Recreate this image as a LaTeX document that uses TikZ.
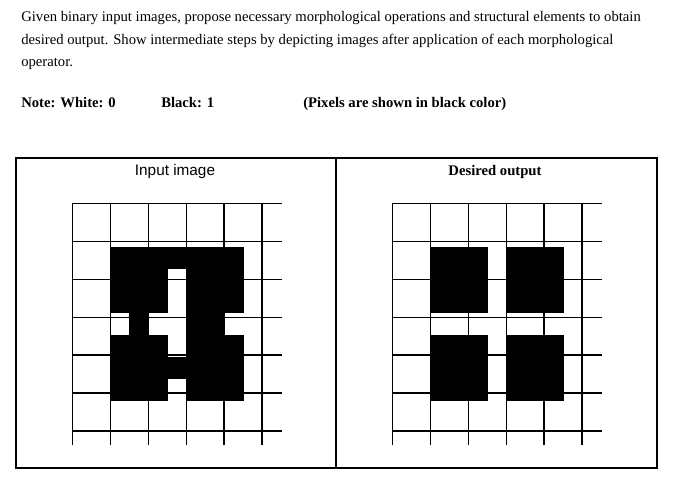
\documentclass[tikz,border=0pt]{standalone}
\usepackage{fontspec}
\setmainfont{Liberation Serif}
\newfontfamily\arialf{Liberation Sans}
\begin{document}
\begin{tikzpicture}[x=0.75pt,y=-0.75pt,
  txt/.style={anchor=base west,inner sep=0pt,font=\fontsize{11}{13}\selectfont},
  gridline/.style={line width=0.9pt}]
\useasboundingbox (0,0) rectangle (688,478);
\node[txt] (l1) at (21,22) {Given binary input images, propose necessary morphological operations and structural elements to obtain};
\node[txt] (l2) at (21,45) {desired output. Show intermediate steps by depicting images after application of each morphological};
\node[txt] (l3) at (21,67) {operator.};
\node[txt,font=\fontsize{11}{13}\selectfont\bfseries] (n1) at (21,108) {Note: White: 0};
\node[txt,font=\fontsize{11}{13}\selectfont\bfseries] (n2) at (161,108) {Black: 1};
\node[txt,font=\fontsize{11}{13}\selectfont\bfseries] (n3) at (303,108) {(Pixels are shown in black color)};
\draw[line width=0.8pt] (16,158) rectangle (657,468);
\draw[line width=0.8pt] (336,158) -- (336,468);
\node[anchor=base,inner sep=0pt,font=\arialf\fontsize{11.5}{13}\selectfont] (h1) at (175,175) {Input image};
\node[anchor=base,inner sep=0pt,font=\fontsize{11}{13}\selectfont\bfseries] (h2) at (495,175) {Desired output};
% input grid
\begin{scope}[shift={(72.3,203.3)},x=14.28pt,y=-16.5pt]
  \fill (2,2) rectangle (9,9);
  \foreach \r/\c in {3/5,4/5,5/2,5/4,5/5,5/8,6/5,8/5} \fill[white] (\c,\r) rectangle ++(1,1);
  \draw[gridline] (0,0) grid (11,11);
\end{scope}
% output grid
\begin{scope}[shift={(392.3,203.3)},x=14.28pt,y=-16.5pt]
  \foreach \r in {2,6} \foreach \c in {2,6} \fill (\c,\r) rectangle ++(3,3);
  \draw[gridline] (0,0) grid (11,11);
\end{scope}
\end{tikzpicture}
\end{document}
